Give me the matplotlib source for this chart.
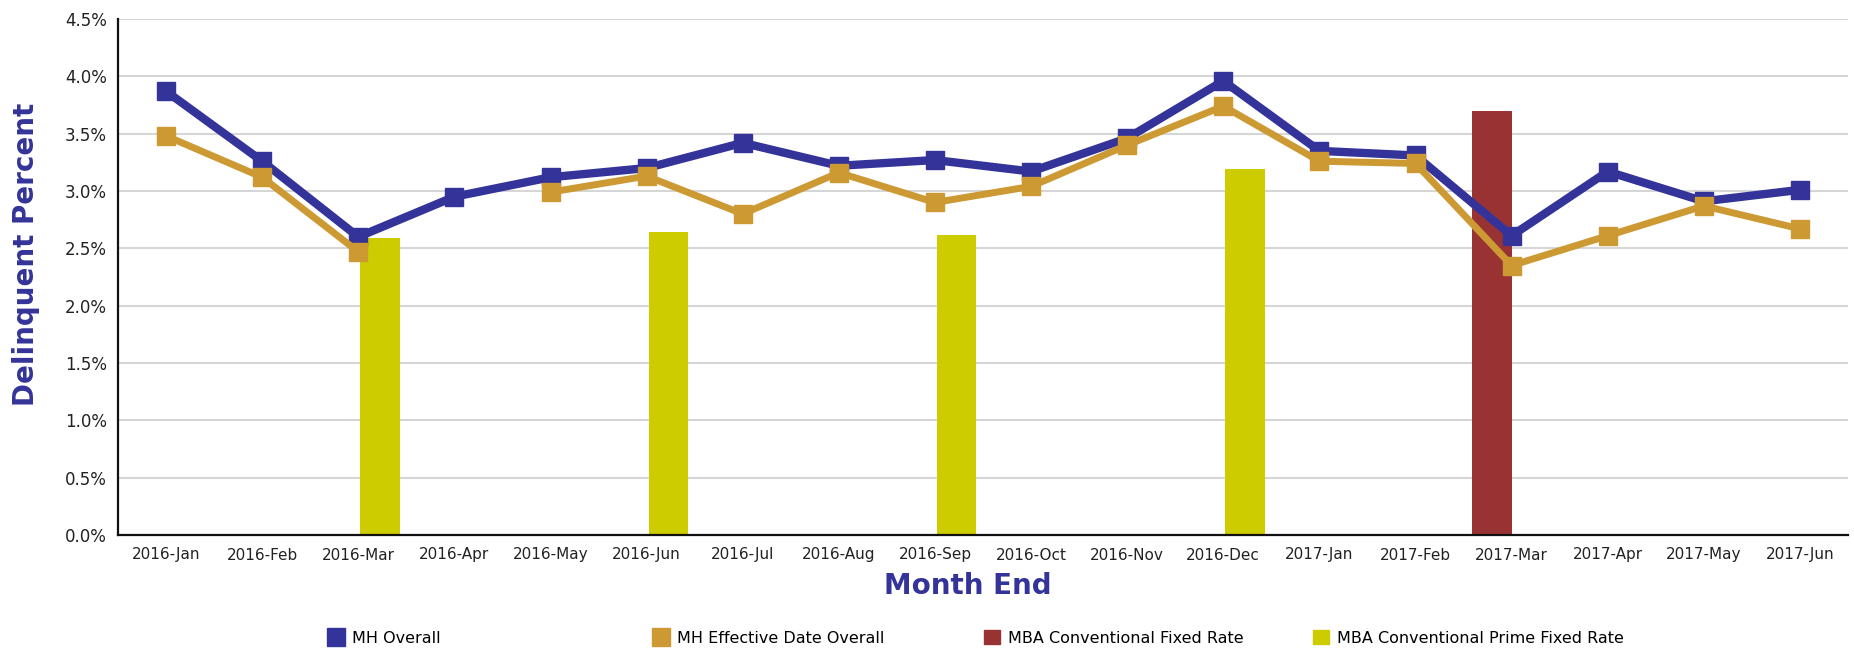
import numpy as np
import matplotlib
matplotlib.use("Agg")
import matplotlib.pyplot as plt
from matplotlib.lines import Line2D
from matplotlib.patches import Patch

nan = np.nan
months = ["2016-Jan", "2016-Feb", "2016-Mar", "2016-Apr", "2016-May", "2016-Jun",
          "2016-Jul", "2016-Aug", "2016-Sep", "2016-Oct", "2016-Nov", "2016-Dec",
          "2017-Jan", "2017-Feb", "2017-Mar", "2017-Apr", "2017-May", "2017-Jun"]
mh_overall = [3.87, 3.26, 2.60, 2.95, 3.12, 3.20, 3.42, 3.22, 3.27, 3.17, 3.46, 3.96,
              3.35, 3.31, 2.61, 3.17, 2.91, 3.01]
mh_effective = [3.48, 3.12, 2.47, nan, 2.99, 3.13, 2.80, 3.16, 2.90, 3.04, 3.40, 3.74,
                3.26, 3.24, 2.35, 2.61, 2.87, 2.67]
mba_conv_fixed = [nan, nan, nan, nan, nan, nan, nan, nan, nan, nan, nan, nan,
                  nan, nan, 3.70, nan, nan, nan]
mba_conv_prime = [nan, nan, 2.59, nan, nan, 2.64, nan, nan, 2.62, nan, nan, 3.19,
                  nan, nan, nan, nan, nan, nan]
y_ticks = [0.0, 0.5, 1.0, 1.5, 2.0, 2.5, 3.0, 3.5, 4.0, 4.5]
series_names = ["MH Overall", "MH Effective Date Overall",
                "MBA Conventional Fixed Rate", "MBA Conventional Prime Fixed Rate"]

C_BLUE = "#333399"
C_ORANGE = "#CC9933"
C_RED = "#993333"
C_YELLOW = "#CCCC00"

fig = plt.figure(figsize=(18.54, 6.51), dpi=100)
ax = fig.add_axes([118 / 1854, 1 - 535 / 651, (1848 - 118) / 1854, (535 - 19) / 651])

x = np.arange(len(months))
red = np.array(mba_conv_fixed, dtype=float)
yel = np.array(mba_conv_prime, dtype=float)
mr = ~np.isnan(red)
my = ~np.isnan(yel)
bw = 0.41
ax.bar(x[mr] - 0.205, red[mr], width=bw, color=C_RED, zorder=2)
ax.bar(x[my] + 0.225, yel[my], width=bw, color=C_YELLOW, zorder=2)

ax.plot(x, mh_overall, color=C_BLUE, lw=6, marker="s", ms=13.5, zorder=3,
        solid_joinstyle="miter")
ax.plot(x, mh_effective, color=C_ORANGE, lw=5, marker="s", ms=13, zorder=4,
        solid_joinstyle="miter")

ax.set_xlim(-0.5, len(months) - 0.5)
ax.set_ylim(0, 4.5)
ax.set_yticks(y_ticks)
ax.set_yticklabels([f"{v:.1f}%" for v in y_ticks], fontsize=12, color="#222222")
ax.set_xticks(x)
ax.set_xticklabels(months, fontsize=11, color="#222222")
ax.tick_params(axis="both", length=0)
ax.tick_params(axis="y", pad=8)
ax.tick_params(axis="x", pad=9)

ax.yaxis.grid(True, color="#d6d6d6", lw=1.5, zorder=0)
ax.set_axisbelow(True)
for s in ["top", "right"]:
    ax.spines[s].set_visible(False)
for s in ["left", "bottom"]:
    ax.spines[s].set_color("#111111")
    ax.spines[s].set_linewidth(1.6)

fig.text(26 / 1854, 1 - 254 / 651, "Delinquent Percent", rotation=90, ha="center",
         va="center", fontsize=20, fontweight="bold", color=C_BLUE)
fig.text(968 / 1854, 1 - 586 / 651, "Month End", ha="center", va="center",
         fontsize=20, fontweight="bold", color=C_BLUE)

handles = [
    Line2D([], [], color=C_BLUE, marker="s", ms=13, lw=0),
    Line2D([], [], color=C_ORANGE, marker="s", ms=13, lw=0),
    Patch(color=C_RED),
    Patch(color=C_YELLOW),
]
xs = [328, 653, 984, 1313]
for h, name, xp in zip(handles, series_names, xs):
    fig.legend([h], [name], loc="center left", bbox_to_anchor=(xp / 1854, 1 - 638 / 651),
               frameon=False, fontsize=11.5, handlelength=1.0, handleheight=1.0,
               handletextpad=0.5, borderpad=0, borderaxespad=0)

fig.savefig("out.png", dpi=100)
